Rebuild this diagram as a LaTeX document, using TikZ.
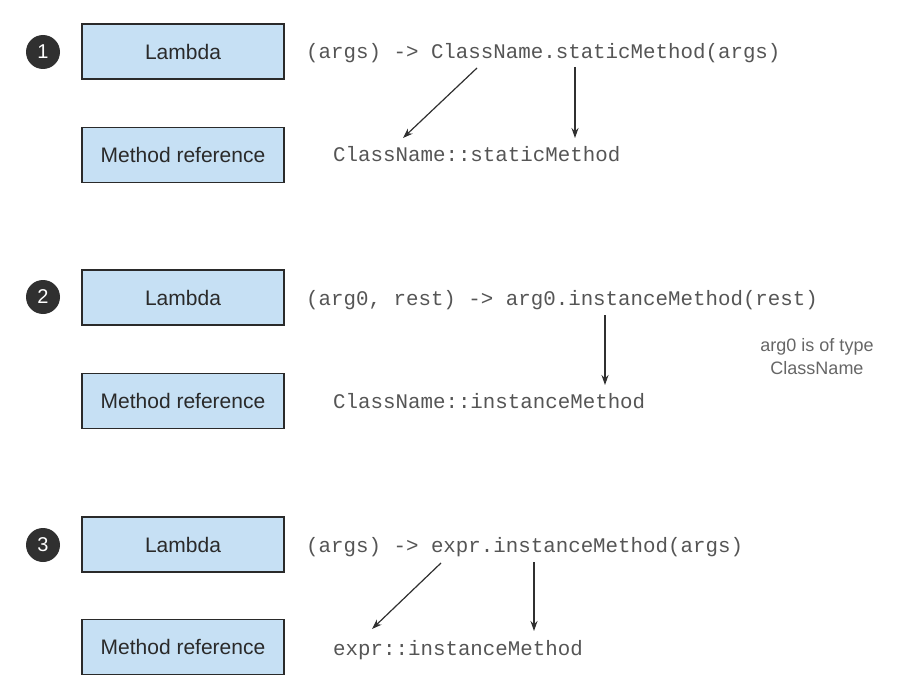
\documentclass[tikz,border=0pt]{standalone}
\usepackage{fontspec}
\setmainfont{Liberation Sans}
\newfontfamily\codefont{Liberation Mono}
\usetikzlibrary{arrows.meta}
\definecolor{boxfill}{HTML}{C6E0F4}
\definecolor{boxline}{HTML}{2A2A2A}
\definecolor{codegray}{HTML}{555555}
\definecolor{notegray}{HTML}{666666}
\definecolor{badge}{HTML}{303030}
\tikzset{
  kindbox/.style={draw=boxline, line width=1.3bp, fill=boxfill, minimum width=202bp,
    minimum height=55bp, inner sep=0pt, font=\fontsize{21bp}{24bp}\selectfont, text=boxline},
  numbadge/.style={circle, fill=badge, minimum size=34bp, inner sep=0pt, text=white,
    font=\fontsize{20bp}{22bp}\selectfont},
  code/.style={anchor=base west, inner sep=0pt, text=codegray,
    font=\codefont\fontsize{20.8bp}{24bp}\selectfont},
  note/.style={align=center, inner sep=0pt, text=notegray,
    font=\fontsize{18bp}{23bp}\selectfont},
  maps/.style={draw=badge, line width=1.2bp, -{Stealth[length=10bp, width=7bp]}}
}
\begin{document}
\begin{tikzpicture}[x=1bp, y=-1bp]
\useasboundingbox (0,0) rectangle (908,679);

% ---- 1: static method
\node[numbadge] (n1) at (43,52) {1};
\node[kindbox] (lam1) at (183,51.5) {Lambda};
\node[kindbox] (ref1) at (183,155) {Method reference};
\node[code] (lcode1) at (306,59) {(args) -> ClassName.staticMethod(args)};
\node[code] (rcode1) at (333,162) {ClassName::staticMethod};
\coordinate (a1s) at (477,68);  \coordinate (a1e) at (403,138);
\coordinate (b1s) at (575,67);  \coordinate (b1e) at (575,138);
\draw[maps] (a1s) -- (a1e);
\draw[maps] (b1s) -- (b1e);

% ---- 2: instance method of an arbitrary object
\node[numbadge] (n2) at (43,297) {2};
\node[kindbox] (lam2) at (183,297.5) {Lambda};
\node[kindbox] (ref2) at (183,401) {Method reference};
\node[code] (lcode2) at (306,305) {(arg0, rest) -> arg0.instanceMethod(rest)};
\node[code] (rcode2) at (333,408) {ClassName::instanceMethod};
\coordinate (b2s) at (605,315);  \coordinate (b2e) at (605,385);
\draw[maps] (b2s) -- (b2e);
\node[note] (type2) at (817,357) {arg0 is of type\\ClassName};

% ---- 3: instance method of an existing object
\node[numbadge] (n3) at (43,545) {3};
\node[kindbox] (lam3) at (183,544.5) {Lambda};
\node[kindbox] (ref3) at (183,647) {Method reference};
\node[code] (lcode3) at (306,552) {(args) -> expr.instanceMethod(args)};
\node[code] (rcode3) at (333,655) {expr::instanceMethod};
\coordinate (a3s) at (441,563);  \coordinate (a3e) at (372,629);
\coordinate (b3s) at (534,562);  \coordinate (b3e) at (534,631);
\draw[maps] (a3s) -- (a3e);
\draw[maps] (b3s) -- (b3e);
\end{tikzpicture}
\end{document}
